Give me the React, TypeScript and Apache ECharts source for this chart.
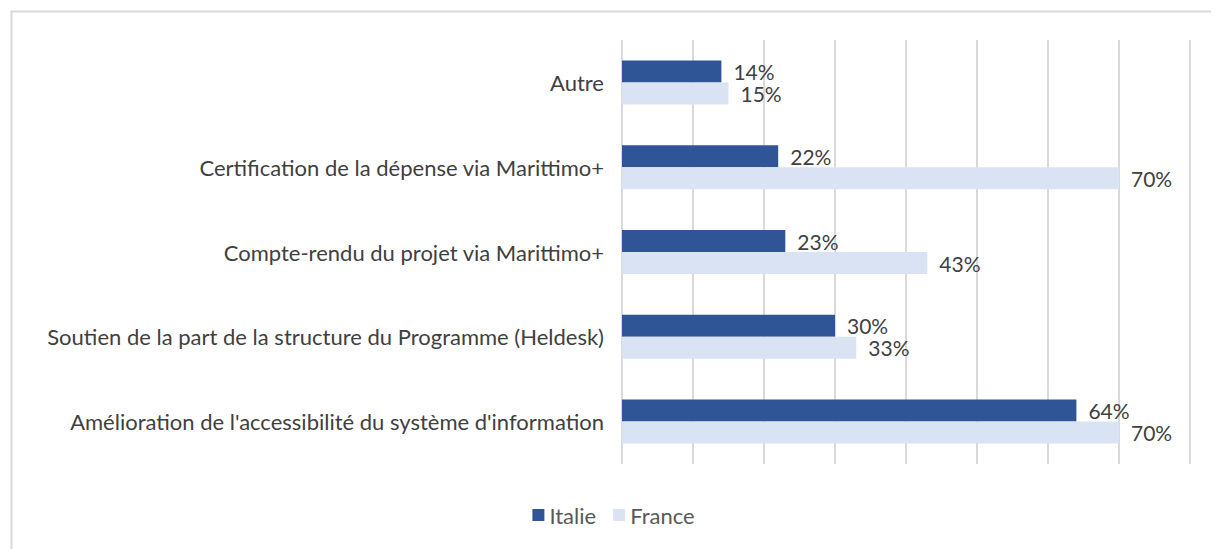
import React, { useEffect, useRef } from "react";
import * as echarts from "echarts";

const categories = [
  "Autre",
  "Certification de la dépense via Marittimo+",
  "Compte-rendu du projet via Marittimo+",
  "Soutien de la part de la structure du Programme (Heldesk)",
  "Amélioration de l'accessibilité du système d'information",
];
const italie = [14, 22, 23, 30, 64];
const france = [15, 70, 43, 33, 70];
const seriesNames = ["Italie", "France"];

const FONT = "Lato, 'Open Sans', sans-serif";

export default function App() {
  const ref = useRef<HTMLDivElement>(null);
  useEffect(() => {
    if (!ref.current) return;
    const chart = echarts.init(ref.current, undefined, { renderer: "svg" });
    const label = {
      show: true,
      position: "right" as const,
      distance: 12,
      formatter: (p: any) => p.value + "%",
      color: "#404040",
      fontSize: 21,
      lineHeight: 20,
      fontFamily: FONT,
    };
    chart.setOption({
      animation: false,
      backgroundColor: "#ffffff",
      graphic: [
        {
          type: "rect",
          left: 1,
          top: 1,
          shape: { width: 1400, height: 800 },
          style: { fill: "none", stroke: "#d9d9d9", lineWidth: 2 },
          silent: true,
          z: -10,
        },
      ],
      legend: {
        data: seriesNames,
        top: 491,
        left: "center",
        itemWidth: 12,
        itemHeight: 12,
        itemGap: 17,
        icon: "rect",
        textStyle: { color: "#595959", fontSize: 22, fontFamily: FONT },
      },
      grid: { left: 614, right: 29, top: 32, bottom: 85, containLabel: false },
      xAxis: {
        type: "value",
        min: 0,
        max: 80,
        interval: 10,
        axisLabel: { show: false },
        axisLine: { show: false },
        axisTick: { show: false },
        splitLine: { show: true, lineStyle: { color: "#d9d9d9", width: 2 } },
      },
      yAxis: {
        type: "category",
        data: categories,
        inverse: true,
        axisLine: { show: false },
        axisTick: { show: false },
        axisLabel: {
          color: "#404040",
          fontSize: 22,
          fontFamily: FONT,
          margin: 18,
        },
      },
      series: [
        {
          name: seriesNames[0],
          type: "bar",
          data: italie,
          barWidth: 22,
          barGap: "0%",
          itemStyle: { color: "#2F5597" },
          label,
        },
        {
          name: seriesNames[1],
          type: "bar",
          data: france,
          barWidth: 22,
          itemStyle: { color: "#DAE3F3" },
          label,
        },
      ],
    });
    return () => chart.dispose();
  }, []);
  return <div ref={ref} style={{ width: 1211, height: 541 }} />;
}
